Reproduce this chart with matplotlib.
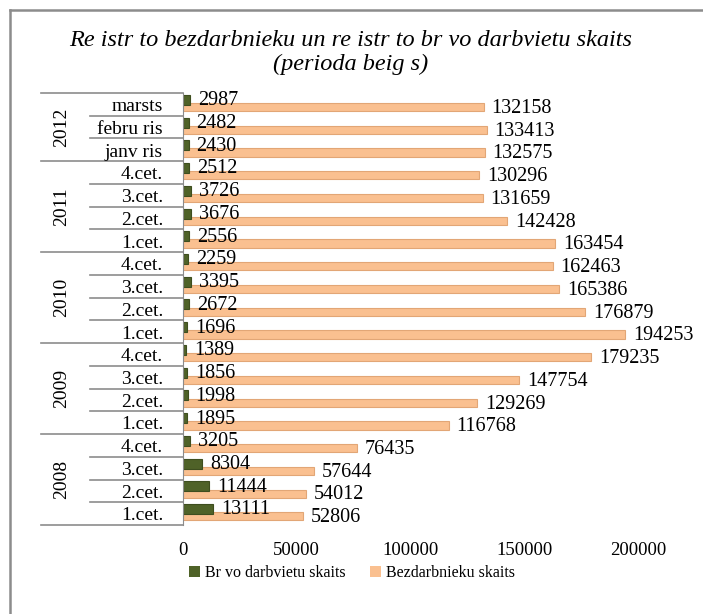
import matplotlib.pyplot as plt
from matplotlib.patches import Patch
import numpy as np

# data, bottom to top as drawn on the chart
years = ['2008', '2009', '2010', '2011', '2012']
year_sizes = [4, 4, 4, 4, 3]
periods = ['1.cet.', '2.cet.', '3.cet.', '4.cet.',
           '1.cet.', '2.cet.', '3.cet.', '4.cet.',
           '1.cet.', '2.cet.', '3.cet.', '4.cet.',
           '1.cet.', '2.cet.', '3.cet.', '4.cet.',
           'janv ris', 'febru ris', 'marsts']
vacancies = [13111, 11444, 8304, 3205,
             1895, 1998, 1856, 1389,
             1696, 2672, 3395, 2259,
             2556, 3676, 3726, 2512,
             2430, 2482, 2987]
unemployed = [52806, 54012, 57644, 76435,
              116768, 129269, 147754, 179235,
              194253, 176879, 165386, 162463,
              163454, 142428, 131659, 130296,
              132575, 133413, 132158]

plt.rcParams['font.family'] = ['Liberation Serif', 'DejaVu Serif']

W, H = 703, 614
fig = plt.figure(figsize=(W / 100, H / 100), dpi=100)

# left/top frame lines of the original picture
fig.add_artist(plt.Line2D([10 / W, 10 / W], [0, 1 - 10 / H], color='#8c8c8c', lw=1.8))
fig.add_artist(plt.Line2D([10 / W, 1], [1 - 10 / H, 1 - 10 / H], color='#8c8c8c', lw=1.8))

x0, x1, ytop, ybot = 183, 638, 93, 525
ax = fig.add_axes([x0 / W, 1 - ybot / H, (x1 - x0) / W, (ybot - ytop) / H])

y = np.arange(len(periods))
green = '#4F6228'
orange = '#FAC090'

ax.barh(y - 0.12, unemployed, height=0.36, color=orange, edgecolor='#E2A676', linewidth=0.8)
ax.barh(y + 0.2, vacancies, height=0.44, color=green, edgecolor='#3E4E1F', linewidth=0.8)

for yi, v in zip(y, unemployed):
    ax.text(v + 3500, yi - 0.18, str(v), va='center', ha='left', fontsize=14.5, clip_on=False)
for yi, v in zip(y, vacancies):
    ax.text(v + 3500, yi + 0.16, str(v), va='center', ha='left', fontsize=14.5, clip_on=False)

ax.set_xlim(0, 200000)
ax.set_ylim(-0.5, len(periods) - 0.5)
ax.set_xticks([0, 50000, 100000, 150000, 200000])
ax.tick_params(axis='x', length=0, pad=12, labelsize=13.5)
ax.set_yticks([])
for s in ['top', 'right', 'bottom']:
    ax.spines[s].set_visible(False)
ax.spines['left'].set_color('#8c8c8c')

# multi-level category axis
tr = ax.get_yaxis_transform()
sub_x = (90 - x0) / (x1 - x0)
grp_x = (41 - x0) / (x1 - x0)
lab_x = (163 - x0) / (x1 - x0)
yr_x = (62 - x0) / (x1 - x0)
line_kw = dict(color='#8c8c8c', lw=1.2, transform=tr, clip_on=False)

for i, p in enumerate(periods):
    ax.text(lab_x, i - 0.1, p, ha='right', va='center', fontsize=14, transform=tr, clip_on=False)

bounds = np.cumsum([0] + year_sizes)
for k in range(len(periods) + 1):
    xs = grp_x if k in bounds else sub_x
    ax.plot([xs, 0], [k - 0.5, k - 0.5], **line_kw)
for yr, a, b in zip(years, bounds[:-1], bounds[1:]):
    ax.text(yr_x, (a + b - 1) / 2, yr, rotation=90, ha='center', va='center',
            fontsize=14, transform=tr, clip_on=False)

fig.text(351 / W, 1 - 40 / H, 'Re istr to bezdarbnieku un re istr to br vo darbvietu skaits',
         ha='center', va='center', fontsize=17.5, style='italic')
fig.text(351 / W, 1 - 64 / H, '(perioda beig s)',
         ha='center', va='center', fontsize=17.5, style='italic')

handles = [Patch(facecolor=green, label='Br vo darbvietu skaits'),
           Patch(facecolor=orange, label='Bezdarbnieku skaits')]
fig.legend(handles=handles, loc='center', bbox_to_anchor=(352 / W, 1 - 573 / H), ncol=2,
           frameon=False, fontsize=11.5, handlelength=0.7, handleheight=0.7,
           handletextpad=0.3, columnspacing=1.5)

fig.savefig('out.png', dpi=100)
